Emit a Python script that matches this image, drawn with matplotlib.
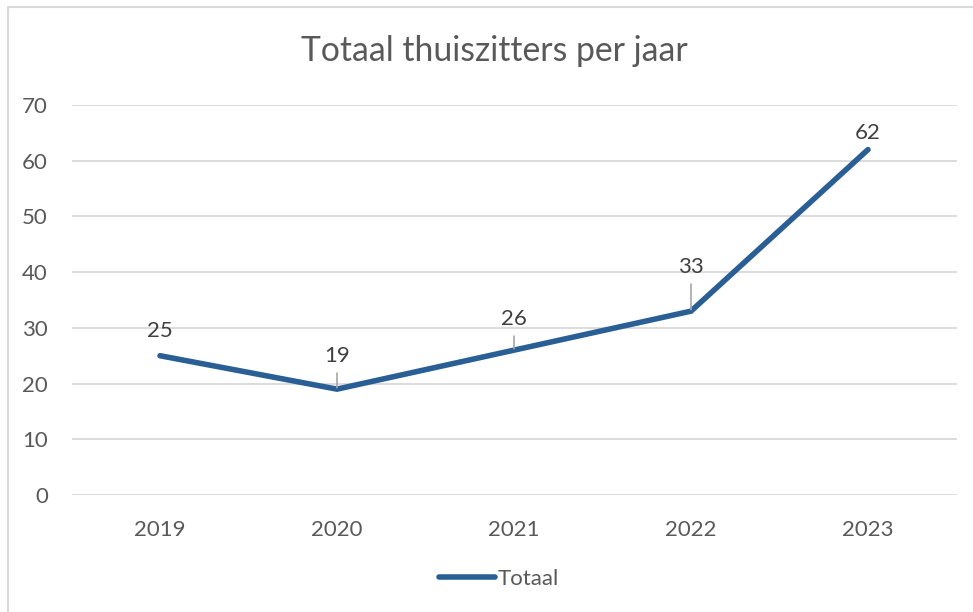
import numpy as np
import matplotlib.pyplot as plt
from matplotlib.patches import Rectangle

# data
jaren = ['2019', '2020', '2021', '2022', '2023']
totaal = [25, 19, 26, 33, 62]

# label offsets in pixels (dx, dy) and whether Excel drew a leader line
label_offsets = [(0, 25), (0, 33), (0, 31), (0, 44), (0, 17)]
leaders = [False, True, True, True, False]

plt.rcParams['font.family'] = ['Lato', 'DejaVu Sans']

fig = plt.figure(figsize=(9.73, 6.12), dpi=100)
# light grey chart border like excel
fig.patches.append(Rectangle((7.5 / 973, -0.01), 1.0, (612 - 7) / 612 + 0.01,
                             transform=fig.transFigure, fill=False,
                             edgecolor='#d9d9d9', linewidth=1.5))

ax = fig.add_axes([71.5 / 973, 117 / 612, 885 / 973, 390 / 612])
x = np.arange(len(jaren))
line_color = '#2a5f96'
ax.plot(x, totaal, color=line_color, linewidth=4.0, solid_joinstyle='miter',
        solid_capstyle='round', label='Totaal', zorder=3)

for i, v in enumerate(totaal):
    dx, dy = label_offsets[i]
    props = None
    if leaders[i]:
        props = dict(arrowstyle='-', color='#a6a6a6', linewidth=1.2,
                     shrinkA=3, shrinkB=1)
    ax.annotate(str(v), xy=(x[i], v), xytext=(dx * 0.72, dy * 0.72),
                textcoords='offset points', ha='center', va='center',
                fontsize=16, color='#404040', arrowprops=props, zorder=4)

ax.set_xlim(-0.5, len(jaren) - 0.5)
ax.set_ylim(0, 70)
ax.set_yticks(range(0, 71, 10))
ax.set_xticks(x)
ax.set_xticklabels(jaren)
ax.grid(axis='y', color='#d9d9d9', linewidth=1.3)
ax.set_axisbelow(True)
for s in ax.spines.values():
    s.set_visible(False)
ax.tick_params(axis='both', length=0, labelsize=16, labelcolor='#595959')
ax.tick_params(axis='y', pad=17)
ax.tick_params(axis='x', pad=18)

fig.text(494 / 973, 1 - 51 / 612, 'Totaal thuiszitters per jaar', ha='center',
         va='center', fontsize=24.3, color='#595959')

fig.legend(loc='center', bbox_to_anchor=(499 / 973, 1 - 579 / 612),
           frameon=False, fontsize=16, labelcolor='#595959',
           handlelength=2.5, handletextpad=0.1)

fig.savefig('out.png', dpi=100)
